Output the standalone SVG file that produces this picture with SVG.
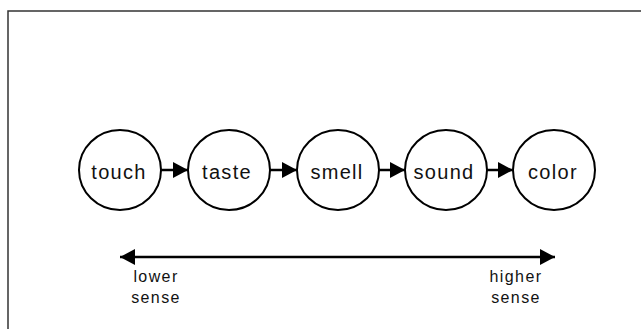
<svg xmlns="http://www.w3.org/2000/svg" width="641" height="329" viewBox="0 0 641 329">
<defs>
<style>
.node{fill:#fff;stroke:#000;stroke-width:2}
.lbl{font-family:"Liberation Sans",Arial,sans-serif;font-size:20px;letter-spacing:1.3px;fill:#111;text-anchor:middle}
.cap{font-family:"Liberation Sans",Arial,sans-serif;font-size:16px;letter-spacing:1.4px;fill:#111;text-anchor:middle}
.conn{stroke:#000;stroke-width:2.5;fill:none}
</style>
<marker id="ah" viewBox="0 0 15 16" refX="15" refY="8" markerWidth="15" markerHeight="16" markerUnits="userSpaceOnUse" orient="auto-start-reverse">
<path d="M0,0 L15,8 L0,16 Z" fill="#000"/>
</marker>
</defs>
<rect width="641" height="329" fill="#fff"/>
<path d="M8,329 V11 H641" fill="none" stroke="#333" stroke-width="1.5"/>
<g id="connectors">
<line class="conn" x1="161" y1="170" x2="188" y2="170" marker-end="url(#ah)"/>
<line class="conn" x1="270" y1="170" x2="297" y2="170" marker-end="url(#ah)"/>
<line class="conn" x1="379" y1="170" x2="405" y2="170" marker-end="url(#ah)"/>
<line class="conn" x1="487" y1="170" x2="513" y2="170" marker-end="url(#ah)"/>
<line class="conn" x1="120" y1="257" x2="555" y2="257" marker-start="url(#ah)" marker-end="url(#ah)"/>
</g>
<g id="touch"><ellipse class="node" cx="120" cy="170" rx="41" ry="40"/><text class="lbl" x="119" y="179">touch</text></g>
<g id="taste"><ellipse class="node" cx="229" cy="170" rx="41" ry="40"/><text class="lbl" x="227" y="179">taste</text></g>
<g id="smell"><ellipse class="node" cx="338" cy="170" rx="41" ry="40"/><text class="lbl" x="337" y="179">smell</text></g>
<g id="sound"><ellipse class="node" cx="446" cy="170" rx="41" ry="40"/><text class="lbl" x="444" y="179">sound</text></g>
<g id="color"><ellipse class="node" cx="554" cy="170" rx="41" ry="40"/><text class="lbl" x="553" y="179">color</text></g>
<g id="lower-label"><text class="cap" x="156" y="282">lower</text><text class="cap" x="156" y="303">sense</text></g>
<g id="higher-label"><text class="cap" x="516" y="282">higher</text><text class="cap" x="516" y="303">sense</text></g>
</svg>
